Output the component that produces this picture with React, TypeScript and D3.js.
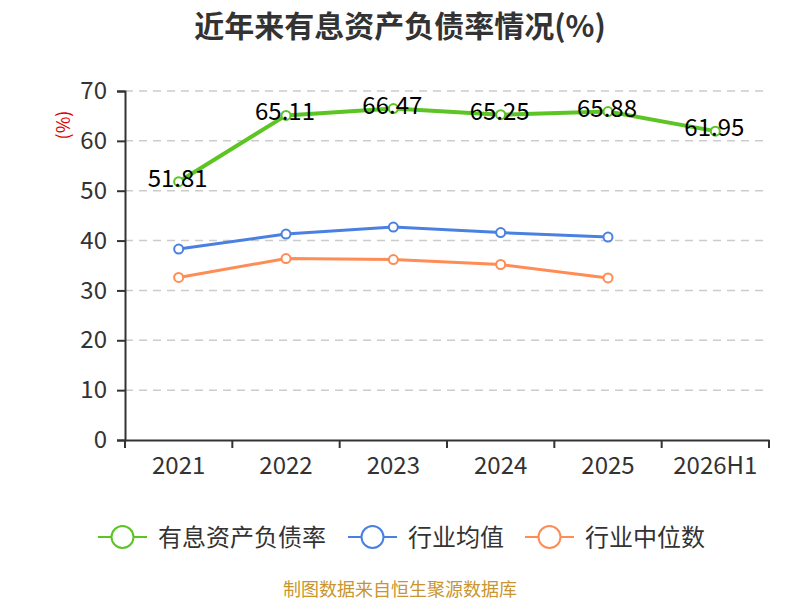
import React, { useRef, useEffect } from "react";
import * as d3 from "d3";

const categories = ["2021", "2022", "2023", "2024", "2025", "2026H1"];
const debtRatio = [51.81, 65.11, 66.47, 65.25, 65.88, 61.95];
const industryMean = [38.3, 41.3, 42.7, 41.6, 40.7];
const industryMedian = [32.6, 36.4, 36.2, 35.2, 32.5];
const yTicks = [0, 10, 20, 30, 40, 50, 60, 70];
const seriesNames = ["有息资产负债率", "行业均值", "行业中位数"];
const seriesColors = ["#5cc524", "#4a80e2", "#ff8c54"];

const FONT = "'Microsoft YaHei', 'Noto Sans CJK SC', sans-serif";

const App: React.FC = () => {
    const svgRef = useRef<SVGSVGElement | null>(null);

    useEffect(() => {
        if (!svgRef.current) return;
        const svg = d3.select(svgRef.current);
        svg.selectAll("*").remove();

        const left = 125, right = 769, top = 91, bottom = 440;
        const x = d3.scaleBand<string>().domain(categories).range([left, right]).padding(0);
        const y = d3.scaleLinear().domain([0, 70]).range([bottom, top]);
        const cx = (c: string) => (x(c) as number) + x.bandwidth() / 2;

        // title
        svg.append("text")
            .attr("x", 400).attr("y", 37)
            .attr("text-anchor", "middle")
            .attr("font-size", 30).attr("font-weight", "bold")
            .attr("fill", "#333").attr("font-family", FONT)
            .text("近年来有息资产负债率情况(%)");

        // grid
        svg.append("g").selectAll("line")
            .data(yTicks.filter((t) => t > 0))
            .enter().append("line")
            .attr("x1", left).attr("x2", right)
            .attr("y1", (d) => y(d)).attr("y2", (d) => y(d))
            .attr("stroke", "#ccc").attr("stroke-width", 1.5)
            .attr("stroke-dasharray", "8,6");

        // y axis
        const yAxis = svg.append("g")
            .attr("transform", `translate(${left},0)`)
            .call(d3.axisLeft(y).tickValues(yTicks).tickSize(8).tickPadding(10).tickFormat((d) => String(d)));
        yAxis.select(".domain").attr("stroke", "#333").attr("stroke-width", 2);
        yAxis.selectAll(".tick line").attr("stroke", "#333").attr("stroke-width", 2);
        yAxis.selectAll(".tick text")
            .attr("font-size", 24).attr("fill", "#333").attr("font-family", FONT);

        // x axis
        const xAxis = svg.append("g")
            .attr("transform", `translate(0,${bottom})`)
            .call(d3.axisBottom(x).tickSize(0).tickPadding(17));
        xAxis.select(".domain").attr("stroke", "#333").attr("stroke-width", 2);
        xAxis.selectAll(".tick text")
            .attr("font-size", 24).attr("fill", "#333").attr("font-family", FONT);
        xAxis.selectAll("line.bt")
            .data([...categories.map((c) => x(c) as number), right])
            .enter().append("line").attr("class", "bt")
            .attr("x1", (d) => d).attr("x2", (d) => d)
            .attr("y1", 0).attr("y2", 8)
            .attr("stroke", "#333").attr("stroke-width", 2);

        // y unit label
        svg.append("text")
            .attr("transform", "translate(70,125) rotate(-90)")
            .attr("text-anchor", "middle")
            .attr("font-size", 18).attr("fill", "#e00000").attr("font-family", FONT)
            .text("(%)");

        const allSeries = [debtRatio, industryMean, industryMedian];
        const widths = [4, 3, 3];
        allSeries.forEach((vals, si) => {
            const pts = vals.map((v, i) => ({ c: categories[i], v }));
            const line = d3.line<{ c: string; v: number }>().x((d) => cx(d.c)).y((d) => y(d.v));
            svg.append("path")
                .datum(pts)
                .attr("d", line)
                .attr("fill", "none")
                .attr("stroke", seriesColors[si])
                .attr("stroke-width", widths[si]);
            svg.append("g").selectAll("circle")
                .data(pts).enter().append("circle")
                .attr("cx", (d) => cx(d.c)).attr("cy", (d) => y(d.v))
                .attr("r", 4.5)
                .attr("fill", "#fff")
                .attr("stroke", seriesColors[si]).attr("stroke-width", 2);
        });

        // value labels
        svg.append("g").selectAll("text")
            .data(debtRatio.map((v, i) => ({ c: categories[i], v })))
            .enter().append("text")
            .attr("x", (d) => cx(d.c) - 1)
            .attr("y", (d) => y(d.v) + 5)
            .attr("text-anchor", "middle")
            .attr("font-size", 24).attr("fill", "#000").attr("font-family", FONT)
            .text((d) => d.v.toFixed(2));

        // legend
        const legendX = [98, 348, 525];
        const legend = svg.append("g");
        seriesNames.forEach((name, i) => {
            const g = legend.append("g").attr("transform", `translate(${legendX[i]},537)`);
            g.append("line").attr("x1", 0).attr("x2", 49).attr("y1", 0).attr("y2", 0)
                .attr("stroke", seriesColors[i]).attr("stroke-width", 2);
            g.append("circle").attr("cx", 24.5).attr("cy", 0).attr("r", 11)
                .attr("fill", "#fff").attr("stroke", seriesColors[i]).attr("stroke-width", 2);
            g.append("text").attr("x", 60).attr("y", 9)
                .attr("font-size", 24).attr("fill", "#333").attr("font-family", FONT)
                .text(name);
        });

        // source
        svg.append("text")
            .attr("x", 400).attr("y", 596)
            .attr("text-anchor", "middle")
            .attr("font-size", 18).attr("fill", "#c9952f").attr("font-family", FONT)
            .text("制图数据来自恒生聚源数据库");
    }, []);

    return (
        <div>
            <style>{`body { margin: 0; }`}</style>
            <svg ref={svgRef} width={800} height={600} style={{ display: "block", background: "#fff" }}></svg>
        </div>
    );
};

export default App;
